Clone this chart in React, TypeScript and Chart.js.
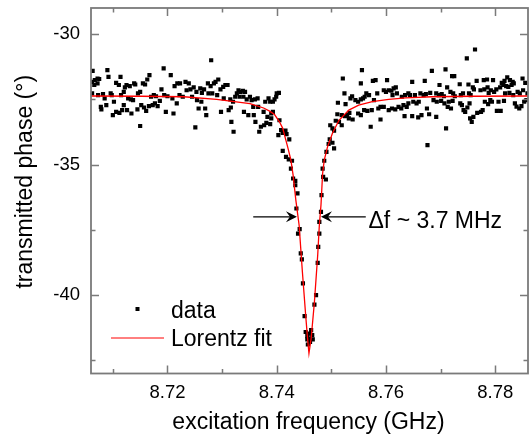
import React, { useEffect, useRef } from 'react';
import { Chart, registerables } from 'chart.js';

Chart.register(...registerables);

const FONT = '"Liberation Sans", Arial, Helvetica, sans-serif';
const AXIS_COLOR = '#7a7a7a';

// axis ranges and ticks
const xRange = [8.706, 8.786];
const yRange = [-43, -29];
const xMajorTicks = [8.72, 8.74, 8.76, 8.78];
const xMinorTicks = [8.71, 8.73, 8.75, 8.77];
const yMajorTicks = [-30, -35, -40];
const yMinorTicks = [-32.5, -37.5, -42.5];

// texts
const xTitle = 'excitation frequency (GHz)';
const yTitle = 'transmitted phase (°)';
const legendLabels = ['data', 'Lorentz fit'];
const annotationText = 'Δf ~ 3.7 MHz';

// annotation anchors (data units)
const arrowY = -37.0;
const leftArrow = [8.7357, 8.7437]; // start, tip
const rightArrow = [8.7563, 8.7481]; // start, tip
const annotationX = 8.7568;

// Lorentz fit curve
const fitX = [8.7060, 8.7150, 8.7230, 8.7290, 8.7351, 8.7376, 8.7387, 8.7396, 8.7405, 8.7411, 8.7420, 8.7426, 8.7430, 8.7435, 8.7441, 8.7447, 8.7453, 8.7456, 8.7459, 8.7463, 8.7469, 8.7475, 8.7478, 8.7481, 8.7484, 8.7487, 8.7493, 8.7502, 8.7514, 8.7532, 8.7550, 8.7575, 8.7605, 8.7636, 8.7684, 8.7760, 8.7860];
const fitY = [-32.37, -32.38, -32.40, -32.50, -32.66, -32.83, -32.95, -33.08, -33.36, -33.61, -34.32, -34.83, -35.40, -36.36, -37.32, -39.11, -40.77, -41.55, -42.23, -41.66, -40.26, -38.47, -37.32, -36.55, -35.34, -34.83, -34.32, -33.80, -33.30, -32.91, -32.72, -32.59, -32.50, -32.44, -32.40, -32.38, -32.37];

// measured data points [frequency GHz, phase deg]
const dataPoints: [number, number][] = [
  [8.7063,-31.41],[8.7062,-31.83],[8.7067,-31.76],[8.7072,-31.70],[8.7075,-31.72],[8.7066,-31.95],[8.7072,-31.89],[8.7062,-32.27],[8.7073,-32.34],[8.7078,-32.79],
  [8.7079,-32.88],[8.7082,-32.30],[8.7085,-32.46],[8.7088,-32.72],[8.7090,-31.38],[8.7092,-31.64],[8.7096,-32.27],[8.7098,-32.34],[8.7102,-32.59],[8.7100,-33.10],
  [8.7106,-31.87],[8.7106,-32.98],[8.7111,-31.95],[8.7112,-33.02],[8.7114,-31.64],[8.7115,-32.34],[8.7117,-32.91],[8.7120,-32.21],[8.7120,-32.72],[8.7122,-32.04],
  [8.7125,-31.95],[8.7126,-32.91],[8.7128,-32.46],[8.7131,-31.99],[8.7133,-32.50],[8.7134,-33.04],[8.7137,-32.53],[8.7139,-31.89],[8.7141,-31.93],[8.7145,-32.88],
  [8.7146,-32.27],[8.7150,-32.21],[8.7150,-33.52],[8.7152,-32.72],[8.7155,-31.89],[8.7157,-32.81],[8.7159,-31.93],[8.7161,-32.94],[8.7163,-31.74],[8.7166,-32.76],
  [8.7167,-31.57],[8.7170,-32.40],[8.7173,-32.72],[8.7175,-32.34],[8.7177,-32.65],[8.7179,-32.38],[8.7182,-32.76],[8.7186,-32.56],[8.7189,-32.12],[8.7193,-31.31],
  [8.7194,-32.34],[8.7197,-32.98],[8.7200,-32.38],[8.7206,-31.57],[8.7209,-32.46],[8.7211,-33.04],[8.7213,-31.99],[8.7217,-32.65],[8.7218,-31.89],[8.7222,-32.34],
  [8.7223,-31.89],[8.7228,-32.40],
  [8.7233,-31.83],[8.7235,-32.15],[8.7239,-31.89],[8.7242,-32.12],[8.7245,-32.40],[8.7248,-32.04],[8.7251,-33.57],[8.7253,-32.21],[8.7254,-32.53],[8.7257,-32.85],
  [8.7260,-32.08],[8.7262,-32.59],[8.7263,-32.25],[8.7267,-32.12],[8.7269,-32.85],[8.7271,-33.10],[8.7274,-31.89],[8.7275,-32.27],[8.7279,-31.99],[8.7280,-31.00],
  [8.7282,-32.27],[8.7285,-31.89],[8.7288,-31.83],[8.7291,-32.34],[8.7293,-31.74],[8.7297,-32.12],[8.7298,-32.98],[8.7302,-32.02],[8.7303,-32.46],[8.7306,-31.95],
  [8.7310,-31.95],[8.7312,-32.91],[8.7315,-32.50],[8.7316,-32.81],[8.7317,-33.36],[8.7320,-32.59],[8.7321,-33.74],[8.7324,-32.40],[8.7327,-32.27],[8.7330,-32.15],
  [8.7332,-32.40],[8.7334,-32.21],[8.7338,-32.17],[8.7339,-32.40],[8.7340,-32.98],[8.7342,-32.21],[8.7345,-32.50],[8.7348,-33.10],[8.7351,-32.40],[8.7354,-32.53],
  [8.7357,-32.79],[8.7358,-33.10],[8.7360,-32.50],[8.7361,-33.36],[8.7365,-32.46],[8.7366,-32.79],[8.7368,-33.74],[8.7371,-33.55],[8.7376,-32.98],[8.7377,-33.49],
  [8.7379,-32.59],[8.7381,-33.40],[8.7383,-33.17],[8.7385,-32.46],
  [8.7388,-32.59],[8.7393,-32.59],[8.7396,-32.50],[8.7399,-32.40],[8.7400,-32.27],[8.7404,-32.25],[8.7390,-33.04],[8.7393,-32.98],[8.7390,-33.23],[8.7388,-33.45],
  [8.7405,-33.30],[8.7408,-33.68],[8.7403,-33.87],[8.7411,-33.78],[8.7416,-33.70],[8.7418,-33.83],[8.7423,-34.03],[8.7411,-34.47],[8.7417,-34.70],[8.7422,-34.80],
  [8.7428,-34.85],[8.7426,-35.15],[8.7430,-35.53],[8.7434,-35.62],[8.7434,-35.79],[8.7438,-36.10],[8.7436,-36.68],
  [8.7442,-37.47],[8.7439,-37.64],[8.7444,-38.40],[8.7446,-38.63],[8.7448,-39.55],[8.7451,-40.80],[8.7453,-41.41],[8.7456,-41.57],[8.7459,-41.47],[8.7456,-41.69],
  [8.7460,-41.66],[8.7461,-41.79],[8.7457,-41.89],[8.7465,-41.53],[8.7466,-41.69],[8.7463,-41.34],[8.7469,-40.36],[8.7472,-40.00],[8.7475,-38.76],[8.7476,-38.15],
  [8.7478,-37.64],[8.7478,-37.19],[8.7481,-36.81],
  [8.7482,-36.17],[8.7484,-35.15],[8.7485,-35.47],[8.7490,-35.57],[8.7487,-34.85],[8.7491,-34.51],[8.7495,-34.21],[8.7497,-34.03],[8.7502,-34.16],[8.7505,-34.38],
  [8.7498,-33.49],[8.7502,-33.61],[8.7505,-33.70],[8.7508,-33.32],[8.7514,-33.36],[8.7519,-33.49],[8.7511,-33.07],[8.7519,-33.10],[8.7525,-33.14],[8.7533,-33.02],
  [8.7512,-32.63],[8.7526,-32.68],[8.7524,-32.27],[8.7521,-31.70],
  [8.7556,-31.38],[8.7554,-31.89],[8.7576,-31.79],[8.7581,-31.76],[8.7602,-31.76],[8.7648,-31.83],[8.7671,-31.79],[8.7684,-31.41],[8.7535,-32.46],[8.7538,-32.38],
  [8.7544,-32.53],[8.7549,-32.59],[8.7554,-32.50],[8.7558,-32.46],[8.7561,-32.40],[8.7564,-32.27],[8.7569,-32.34],[8.7578,-32.53],[8.7584,-32.27],[8.7596,-32.15],
  [8.7600,-32.21],[8.7605,-32.15],[8.7610,-32.17],[8.7614,-32.08],[8.7618,-32.04],[8.7612,-32.34],[8.7620,-32.27],[8.7629,-32.40],[8.7635,-32.34],[8.7641,-32.27],
  [8.7644,-32.34],[8.7653,-32.34],[8.7663,-32.27],[8.7669,-32.34],[8.7673,-32.30],[8.7681,-32.25],[8.7529,-33.10],[8.7532,-33.23],[8.7539,-33.27],[8.7549,-33.04],
  [8.7554,-33.10],[8.7560,-32.91],[8.7566,-32.94],[8.7574,-32.91],[8.7572,-33.55],[8.7586,-32.85],[8.7590,-32.79],[8.7596,-32.79],[8.7590,-33.27],[8.7605,-32.91],
  [8.7611,-32.85],[8.7617,-32.88],[8.7623,-32.79],[8.7628,-32.85],[8.7632,-32.72],[8.7634,-33.14],[8.7638,-32.79],[8.7648,-33.14],[8.7641,-32.65],[8.7650,-32.59],
  [8.7656,-32.65],[8.7660,-32.59],[8.7659,-33.19],[8.7665,-33.10],[8.7675,-32.85],[8.7679,-33.07],[8.7676,-34.25],
  [8.7687,-32.53],[8.7692,-32.27],[8.7692,-33.17],[8.7693,-32.59],[8.7697,-32.34],[8.7698,-31.95],[8.7701,-32.56],[8.7702,-32.30],[8.7706,-32.38],[8.7707,-32.65],
  [8.7709,-31.35],[8.7710,-33.61],[8.7712,-32.04],[8.7713,-32.79],[8.7715,-32.59],[8.7718,-32.21],[8.7719,-32.85],[8.7721,-31.61],[8.7722,-32.56],[8.7723,-32.27],
  [8.7725,-31.61],[8.7726,-32.38],[8.7735,-31.92],[8.7736,-32.65],[8.7737,-32.34],[8.7739,-32.72],[8.7741,-32.27],[8.7742,-32.91],[8.7745,-32.98],[8.7748,-30.93],
  [8.7749,-32.81],[8.7751,-31.93],[8.7752,-32.27],[8.7753,-32.65],[8.7754,-33.23],[8.7755,-32.34],[8.7757,-33.36],[8.7759,-32.04],[8.7760,-33.17],[8.7761,-32.12],
  [8.7763,-30.59],[8.7766,-31.79],[8.7767,-33.02],[8.7773,-32.15],[8.7774,-32.98],[8.7777,-32.91],[8.7779,-31.76],[8.7780,-32.12],[8.7781,-32.59],[8.7785,-31.74],
  [8.7786,-32.04],[8.7787,-32.68],[8.7788,-32.25],[8.7791,-32.53],[8.7792,-32.15],[8.7794,-32.59],[8.7796,-31.76],[8.7798,-32.21],[8.7802,-32.12],[8.7803,-32.94],
  [8.7806,-32.59],[8.7809,-32.04],[8.7810,-32.94],[8.7812,-31.87],[8.7815,-31.95],[8.7816,-32.56],[8.7817,-31.79],[8.7818,-32.27],[8.7820,-31.99],[8.7822,-31.66],
  [8.7824,-32.02],[8.7826,-32.25],[8.7827,-31.76],[8.7830,-31.95],[8.7832,-31.83],[8.7833,-32.34],[8.7834,-31.89],[8.7836,-32.65],[8.7839,-32.78],[8.7841,-32.21],
  [8.7844,-32.85],[8.7845,-32.27],[8.7848,-32.76],[8.7850,-31.70],[8.7851,-32.15],[8.7853,-32.59],[8.7855,-31.87],[8.7857,-32.53],[8.7859,-32.27],
];

function drawArrow(ctx: CanvasRenderingContext2D, x0: number, x1: number, yy: number) {
  const dir = Math.sign(x1 - x0);
  const L = 11;
  const W = 5.5;
  const N = 7;
  ctx.beginPath();
  ctx.moveTo(x0, yy);
  ctx.lineTo(x1 - dir * N, yy);
  ctx.stroke();
  ctx.beginPath();
  ctx.moveTo(x1, yy);
  ctx.lineTo(x1 - dir * L, yy - W);
  ctx.lineTo(x1 - dir * N, yy);
  ctx.lineTo(x1 - dir * L, yy + W);
  ctx.closePath();
  ctx.fill();
}

const decorPlugin = {
  id: 'decor',
  afterDraw(chart: any) {
    const { ctx, chartArea: a, scales } = chart;
    const xs = scales.x;
    const ys = scales.y;
    ctx.save();

    // inward ticks on all four sides
    ctx.strokeStyle = AXIS_COLOR;
    ctx.lineWidth = 1.5;
    ctx.beginPath();
    const xt = (v: number, len: number) => {
      const p = Math.round(xs.getPixelForValue(v)) + 0.5;
      ctx.moveTo(p, a.bottom);
      ctx.lineTo(p, a.bottom - len);
      ctx.moveTo(p, a.top);
      ctx.lineTo(p, a.top + len);
    };
    const yt = (v: number, len: number) => {
      const p = Math.round(ys.getPixelForValue(v)) + 0.5;
      ctx.moveTo(a.left, p);
      ctx.lineTo(a.left + len, p);
      ctx.moveTo(a.right, p);
      ctx.lineTo(a.right - len, p);
    };
    xMajorTicks.forEach((v) => xt(v, 8));
    xMinorTicks.forEach((v) => xt(v, 4.5));
    yMajorTicks.forEach((v) => yt(v, 8));
    yMinorTicks.forEach((v) => yt(v, 4.5));
    ctx.stroke();

    // frame
    ctx.lineWidth = 1.8;
    ctx.strokeRect(a.left, a.top, a.right - a.left, a.bottom - a.top);

    // annotation arrows
    ctx.strokeStyle = '#000';
    ctx.fillStyle = '#000';
    ctx.lineWidth = 1.2;
    const ay = ys.getPixelForValue(arrowY);
    drawArrow(ctx, xs.getPixelForValue(leftArrow[0]), xs.getPixelForValue(leftArrow[1]), ay);
    drawArrow(ctx, xs.getPixelForValue(rightArrow[0]), xs.getPixelForValue(rightArrow[1]), ay);
    ctx.font = `23px ${FONT}`;
    ctx.textAlign = 'left';
    ctx.textBaseline = 'alphabetic';
    ctx.fillText(annotationText, xs.getPixelForValue(annotationX), ay + 11);

    // legend
    const lx = a.left;
    const ly = a.top;
    ctx.fillStyle = '#000';
    ctx.fillRect(lx + 44.5, ly + 299, 4, 4);
    ctx.fillText(legendLabels[0], lx + 80, ly + 309.5);
    ctx.strokeStyle = '#ff0000';
    ctx.lineWidth = 1;
    ctx.beginPath();
    ctx.moveTo(lx + 20, ly + 330);
    ctx.lineTo(lx + 73, ly + 330);
    ctx.stroke();
    ctx.fillText(legendLabels[1], lx + 80, ly + 338);

    // axis titles
    ctx.textAlign = 'center';
    ctx.fillText(xTitle, (a.left + a.right) / 2 - 1, 429);
    ctx.save();
    ctx.translate(31.7, (a.top + a.bottom) / 2 - 9);
    ctx.rotate(-Math.PI / 2);
    ctx.fillText(yTitle, 0, 0);
    ctx.restore();

    ctx.restore();
  },
};

export default function App() {
  const canvasRef = useRef<HTMLCanvasElement | null>(null);

  useEffect(() => {
    const canvas = canvasRef.current;
    if (!canvas) return;
    const chart = new Chart(canvas, {
      type: 'scatter',
      data: {
        datasets: [
          {
            label: legendLabels[1],
            data: fitX.map((x, i) => ({ x, y: fitY[i] })),
            showLine: true,
            borderColor: '#ff0000',
            borderWidth: 1.3,
            pointRadius: 0,
            tension: 0,
            fill: false,
            order: 0,
          },
          {
            label: legendLabels[0],
            data: dataPoints.map(([x, y]) => ({ x, y })),
            pointStyle: 'rect',
            pointRadius: 2.95,
            pointBorderWidth: 0,
            backgroundColor: '#000',
            borderColor: '#000',
            order: 1,
          },
        ],
      } as any,
      options: {
        responsive: false,
        animation: false,
        devicePixelRatio: 1,
        events: [],
        layout: { padding: { left: 0, top: 8, right: 2, bottom: 0 } },
        plugins: { legend: { display: false }, tooltip: { enabled: false } },
        scales: {
          x: {
            type: 'linear',
            position: 'bottom',
            min: xRange[0],
            max: xRange[1],
            grid: { display: false, drawTicks: false },
            border: { display: false },
            ticks: {
              color: '#000',
              font: { family: FONT, size: 18.5 },
              padding: 8,
              maxRotation: 0,
              autoSkip: false,
              callback: (v: any) => Number(v).toFixed(2),
            },
            afterBuildTicks: (s: any) => {
              s.ticks = xMajorTicks.map((value) => ({ value }));
            },
            afterFit: (s: any) => {
              s.height = 68.5;
              s.paddingLeft = 0;
              s.paddingRight = 0;
            },
          },
          y: {
            type: 'linear',
            position: 'left',
            min: yRange[0],
            max: yRange[1],
            grid: { display: false, drawTicks: false },
            border: { display: false },
            ticks: {
              color: '#000',
              font: { family: FONT, size: 18.5 },
              padding: 11,
              autoSkip: false,
              callback: (v: any) => String(v),
            },
            afterBuildTicks: (s: any) => {
              s.ticks = yMajorTicks.map((value) => ({ value }));
            },
            afterFit: (s: any) => {
              s.width = 91;
              s.paddingTop = 0;
              s.paddingBottom = 0;
            },
          },
        },
      } as any,
      plugins: [decorPlugin],
    });
    return () => chart.destroy();
  }, []);

  return (
    <div style={{ position: 'fixed', left: 0, top: 0, width: 532, height: 442, background: '#fff' }}>
      <canvas ref={canvasRef} width={532} height={442} style={{ display: 'block', width: 532, height: 442 }} />
    </div>
  );
}
